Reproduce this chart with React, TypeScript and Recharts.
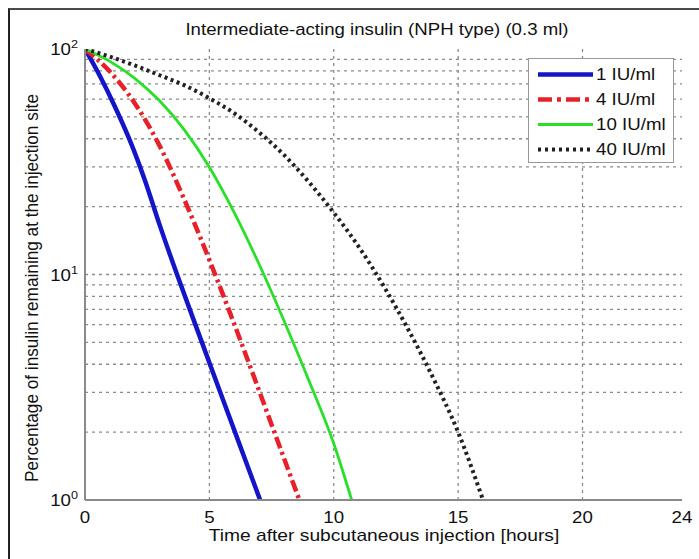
import React from 'react';
import { LineChart, Line, XAxis, YAxis, ReferenceLine, Legend } from 'recharts';

// Time after injection [hours] and % remaining for each concentration
const hours1 = [0, 0.6, 1.2, 1.8, 2.4, 3.0, 3.7, 4.7, 5.44, 6.03, 7.04];
const pct1 = [100, 75.9, 55.6, 39.4, 26.3, 16.6, 10, 5, 3, 2, 1];

const hours4 = [0, 1, 2, 3, 4, 5, 6, 7, 8, 8.62];
const pct4 = [100, 79.4, 57.5, 37.2, 21.4, 11.6, 6.03, 3.05, 1.53, 1];

const hours10 = [0, 1, 2, 3, 4, 5, 6, 7, 8, 9, 10, 10.72];
const pct10 = [100, 88.1, 74.1, 58.9, 43.7, 29.9, 18.8, 11.1, 6.24, 3.39, 1.78, 1];

const hours40 = [0, 1, 2, 3, 4, 5, 6, 7, 8, 9, 10, 11, 12, 13, 14, 15, 16];
const pct40 = [100, 92.5, 84.5, 76.5, 69.0, 60.5, 51.9, 42.7, 33.9, 25.7, 18.8, 13.3, 8.91, 5.69, 3.47, 2.0, 1.0];

const seriesNames = ['1 IU/ml', '4 IU/ml', '10 IU/ml', '40 IU/ml'];

const xTicks = [0, 5, 10, 15, 20, 24];
const yTicks = [1, 10, 100];
const yExponents = ['0', '1', '2'];
const gridX = [5, 10, 15, 20];
const gridY = [2, 3, 4, 5, 6, 7, 8, 9, 10, 20, 30, 40, 50, 60, 70, 80, 90];

const title = 'Intermediate-acting insulin (NPH type) (0.3 ml)';
const xLabel = 'Time after subcutaneous injection [hours]';
const yLabel = 'Percentage of insulin remaining at the injection site';

const toRows = (h: number[], p: number[]) => h.map((t, i) => ({ t, v: p[i] }));

const data1 = toRows(hours1, pct1);
const data4 = toRows(hours4, pct4);
const data10 = toRows(hours10, pct10);
const data40 = toRows(hours40, pct40);

const FONT = 'Arial, "Liberation Sans", Helvetica, sans-serif';
const FS = 17;
const SX = 1.1;

const styles = [
  { color: '#1414c8', width: 4.5, dash: undefined as string | undefined, legendDash: undefined as string | undefined },
  { color: '#e8202a', width: 4.5, dash: '12 4 3 4', legendDash: '14 5 4 5' },
  { color: '#28e028', width: 2.8, dash: undefined, legendDash: undefined },
  { color: '#222222', width: 4, dash: '3 3.5', legendDash: '3 4' },
];

const YTick = (props: any) => {
  const { x, y, payload } = props;
  const idx = yTicks.indexOf(payload.value);
  return (
    <g transform={`translate(${x},${y}) scale(${SX},1)`}>
      <text x={0} y={6} textAnchor="end" fontSize={FS} fontFamily={FONT} fill="#111">
        10
        <tspan dy={-7} fontSize={11.5}>{yExponents[idx]}</tspan>
      </text>
    </g>
  );
};

const XTick = (props: any) => {
  const { x, y, payload } = props;
  return (
    <g transform={`translate(${x},${y}) scale(${SX},1)`}>
      <text x={0} y={23} textAnchor="middle" fontSize={FS} fontFamily={FONT} fill="#111">
        {payload.value}
      </text>
    </g>
  );
};

const LegendBox = () => (
  <div
    style={{
      border: '1.5px solid #999',
      background: '#fff',
      width: 146,
      height: 105,
      boxSizing: 'border-box',
      paddingTop: 3,
      fontFamily: FONT,
      fontSize: FS,
      color: '#111',
    }}
  >
    {seriesNames.map((name, i) => (
      <div key={name} style={{ display: 'flex', alignItems: 'center', height: 25 }}>
        <svg width={67} height={25} style={{ flex: 'none' }}>
          <line
            x1={9}
            x2={64}
            y1={12.5}
            y2={12.5}
            stroke={styles[i].color}
            strokeWidth={styles[i].width}
            strokeDasharray={styles[i].legendDash}
          />
        </svg>
        <span
          style={{
            lineHeight: '25px',
            display: 'inline-block',
            transform: `scaleX(${SX})`,
            transformOrigin: 'left center',
            whiteSpace: 'nowrap',
          }}
        >
          {name}
        </span>
      </div>
    ))}
  </div>
);

const textDiv = (extra: React.CSSProperties): React.CSSProperties => ({
  position: 'absolute',
  textAlign: 'center',
  fontFamily: FONT,
  fontSize: FS,
  lineHeight: '20px',
  height: 20,
  color: '#111',
  whiteSpace: 'nowrap',
  ...extra,
});

export default function App() {
  return (
    <div style={{ position: 'relative', width: 699, height: 559, overflow: 'hidden', background: '#fff' }}>
      <style>{'body{margin:0;overflow:hidden;}'}</style>
      <div
        style={{
          position: 'absolute',
          left: 8,
          top: 8,
          width: 700,
          height: 560,
          borderTop: '2px solid #4a4a4a',
          borderLeft: '2px solid #222',
          boxSizing: 'border-box',
        }}
      />
      <div style={{ position: 'absolute', left: 0, top: 0 }}>
        <LineChart width={699} height={559} margin={{ top: 49, right: 17, bottom: 24, left: 25 }}>
          <XAxis
            dataKey="t"
            type="number"
            domain={[0, 24]}
            ticks={xTicks}
            allowDataOverflow
            height={35}
            tickLine={false}
            tickSize={0}
            tickMargin={0}
            axisLine={{ stroke: '#8a8a8a', strokeWidth: 2 }}
            tick={<XTick />}
            interval={0}
          />
          <XAxis
            xAxisId="top"
            orientation="top"
            type="number"
            domain={[0, 24]}
            height={0}
            tick={false}
            tickLine={false}
            axisLine={{ stroke: '#8a8a8a', strokeWidth: 2 }}
          />
          <YAxis
            type="number"
            scale="log"
            domain={[1, 100]}
            ticks={yTicks}
            allowDataOverflow
            width={60}
            tickLine={false}
            tickSize={0}
            tickMargin={7}
            axisLine={{ stroke: '#8a8a8a', strokeWidth: 2 }}
            tick={<YTick />}
            interval={0}
          />
          <YAxis
            yAxisId="right"
            orientation="right"
            type="number"
            scale="log"
            domain={[1, 100]}
            width={0}
            tick={false}
            tickLine={false}
            axisLine={{ stroke: '#8a8a8a', strokeWidth: 2 }}
          />
          {gridY.map((v) => (
            <ReferenceLine key={'gy' + v} y={v} stroke="#8c8c8c" strokeWidth={1.3} strokeDasharray="3 4" />
          ))}
          {gridX.map((v) => (
            <ReferenceLine key={'gx' + v} x={v} stroke="#8c8c8c" strokeWidth={1.3} strokeDasharray="3 4" />
          ))}
          <Legend
            content={<LegendBox />}
            layout="horizontal"
            align="center"
            verticalAlign="middle"
            wrapperStyle={{ left: 528, top: 58, width: 146, height: 105 }}
          />
          {[data1, data4, data10, data40].map((d, i) => (
            <Line
              key={seriesNames[i]}
              data={d}
              dataKey="v"
              name={seriesNames[i]}
              type="monotone"
              stroke={styles[i].color}
              strokeWidth={styles[i].width}
              strokeDasharray={styles[i].dash}
              dot={false}
              activeDot={false}
              isAnimationActive={false}
            />
          ))}
        </LineChart>
      </div>
      <div style={textDiv({ left: 376.5 - 300, width: 600, top: 20, transform: 'scaleX(1.096)' })}>{title}</div>
      <div style={textDiv({ left: 383.5 - 300, width: 600, top: 526, transform: 'scaleX(1.13)' })}>{xLabel}</div>
      <div
        style={textDiv({
          left: 31 - 250,
          width: 500,
          top: 288 - 10,
          fontSize: 17.2,
          transform: 'rotate(-90deg) scaleY(1.1)',
        })}
      >
        {yLabel}
      </div>
    </div>
  );
}
